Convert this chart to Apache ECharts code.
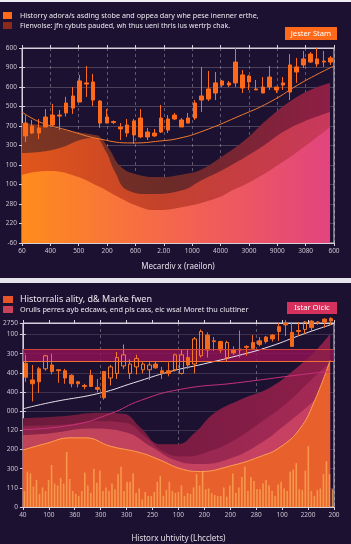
<!DOCTYPE html>
<html lang="en">
<head>
<meta charset="UTF-8">
<title>candles over layered areas</title>
<style>
  html, body { margin: 0; padding: 0; background: #1c1130; }
  #card { width: 351px; height: 544px; }
</style>
</head>
<body>
<div id="card"></div>
<script src="https://cdn.jsdelivr.net/npm/echarts@6/dist/echarts.min.js"></script>
<script>
// ---- panel 1 data ----
var xLabels1 = ['60', '400', '500', '200', '600', '2.00', '1000', '4000', '3000', '9000', '3080', '600'];
var yLabels1 = ['-60', '220', '280', '100', '100', '300', '700', '500', '600', '900', '600'];
// [open, close, low, high]
var candles1 = [
  [5.49, 6.15, 5.18, 6.56], [5.64, 6.0, 5.59, 6.31], [5.64, 5.9, 5.33, 6.36], [5.95, 6.46, 5.95, 6.87],
  [6.05, 6.56, 5.95, 7.13], [6.51, 6.56, 5.79, 6.82], [6.67, 7.18, 6.49, 7.5], [6.92, 7.54, 6.62, 8.0],
  [7.23, 8.31, 7.23, 8.62], [8.15, 8.21, 7.49, 9.08], [7.33, 8.26, 7.03, 8.67], [6.15, 7.28, 5.9, 7.33],
  [6.15, 6.46, 6.15, 6.87], [6.18, 6.23, 6.1, 6.28], [5.85, 5.95, 5.28, 6.15], [5.64, 6.05, 5.44, 6.36],
  [5.54, 6.26, 5.08, 6.36], [5.44, 6.41, 5.38, 6.87], [5.44, 5.69, 5.28, 5.9], [5.49, 5.64, 5.44, 5.85],
  [5.69, 6.41, 5.64, 7.08], [5.79, 6.36, 5.64, 6.56], [6.36, 6.56, 6.31, 6.67], [5.95, 6.31, 5.95, 6.41],
  [6.15, 6.41, 6.15, 6.67], [6.41, 7.18, 6.31, 7.33], [7.33, 7.54, 6.72, 9.03], [7.38, 7.9, 7.28, 8.82],
  [7.69, 8.21, 7.33, 8.77], [8.1, 8.31, 8.0, 8.36], [8.1, 8.21, 8.0, 8.31], [8.21, 9.28, 8.0, 10.0],
  [7.95, 8.62, 7.69, 8.87], [8.26, 8.56, 7.85, 8.62], [7.85, 7.9, 7.85, 8.36], [7.69, 8.0, 7.69, 8.51],
  [8.0, 8.51, 7.85, 9.08], [7.85, 8.0, 7.69, 8.0], [8.1, 8.21, 7.85, 8.51], [7.74, 9.13, 7.33, 9.69],
  [8.77, 9.03, 8.21, 9.49], [9.13, 9.44, 8.97, 9.85], [9.28, 9.69, 9.23, 9.79], [9.18, 9.44, 9.03, 10.0],
  [9.28, 9.33, 9.03, 9.85], [9.28, 9.49, 9.13, 9.59]
];
var trend1 = [[0, 6.72], [0.63, 6.2], [1.59, 5.79], [2.75, 5.33], [3.91, 5.13], [4.86, 5.23], [5.57, 5.38],
  [6.38, 5.74], [7.58, 6.46], [8.74, 7.23], [9.91, 8.26], [11, 9.08]];
var backArea1 = [[0, 6.15], [0.81, 6.0], [1.69, 5.74], [2.57, 5.54], [2.75, 5.44], [3.1, 4.77], [3.46, 3.95],
  [3.98, 3.54], [4.87, 3.38], [5.75, 3.54], [6.28, 3.74], [6.98, 4.36], [7.86, 5.28], [8.74, 6.46],
  [9.63, 7.44], [10.33, 7.95], [10.86, 8.21]];
var midArea1 = [[0, 4.62], [0.63, 4.67], [1.34, 4.87], [2.05, 5.28], [2.57, 5.38], [2.93, 4.77], [3.28, 3.64],
  [3.7, 2.72], [4.51, 2.51], [5.68, 2.72], [6.28, 3.18], [7.33, 3.95], [8.39, 4.87], [9.45, 5.9], [10.86, 6.72]];
var frontArea1 = [[0, 3.49], [0.46, 3.64], [0.99, 3.69], [1.87, 3.44], [2.75, 2.87], [3.46, 2.31], [4.16, 1.85],
  [4.69, 1.69], [5.68, 1.85], [6.88, 2.31], [7.44, 2.72], [8.04, 3.13], [8.92, 3.9], [9.8, 4.77], [10.86, 5.95]];

// ---- panel 2 data ----
var xLabels2 = ['40', '100', '360', '300', '300', '250', '100', '200', '200', '280', '100', '2200', '200'];
var yLabels2 = ['0', '110', '300', '200', '120', '000', '400', '400', '300', '100'];
var yTopLabel2 = '2750';
var candles2 = [
  [7.5, 6.77, 6.53, 7.94], [6.63, 6.43, 5.51, 7.41], [7.21, 6.53, 5.95, 7.31], [7.21, 7.89, 7.11, 7.94],
  [7.41, 7.07, 6.92, 7.99], [7.16, 7.11, 6.48, 7.18], [7.11, 6.73, 6.43, 7.21], [6.87, 6.43, 6.24, 6.92],
  [6.53, 6.43, 6.24, 6.58], [6.34, 6.29, 6.14, 6.43], [6.87, 6.29, 6.29, 7.16], [6.24, 6.14, 5.99, 6.68],
  [7.07, 5.7, 5.6, 7.07], [6.73, 7.31, 6.34, 7.41], [6.97, 7.8, 6.68, 8.09], [7.36, 7.94, 7.21, 8.48],
  [6.97, 7.46, 6.68, 7.7], [7.31, 7.75, 6.92, 7.94], [7.16, 7.46, 6.97, 7.55], [7.16, 7.41, 6.63, 7.55],
  [7.46, 7.26, 7.21, 7.6], [7.11, 6.97, 6.68, 7.31], [7.11, 6.97, 6.82, 7.55], [7.16, 7.94, 7.07, 8.0],
  [6.97, 7.94, 6.92, 8.19], [7.8, 7.41, 7.21, 8.24], [7.46, 8.77, 6.97, 8.87], [7.89, 9.16, 7.8, 9.26],
  [8.97, 8.19, 7.8, 9.11], [8.67, 8.63, 8.14, 8.87], [8.63, 8.19, 8.04, 8.67], [7.8, 8.58, 7.6, 8.67],
  [8.19, 8.04, 7.94, 8.38], [8.24, 8.19, 7.8, 9.21], [8.38, 8.33, 7.89, 8.43], [8.58, 8.28, 8.19, 8.97],
  [8.67, 8.48, 8.38, 8.87], [8.87, 8.63, 8.53, 8.92], [8.97, 8.77, 8.63, 9.02], [9.41, 9.16, 8.67, 9.6],
  [9.6, 9.5, 8.92, 9.75], [9.11, 8.38, 8.38, 9.65], [9.21, 9.16, 8.92, 9.65], [9.26, 9.65, 9.02, 9.7],
  [9.7, 9.36, 9.16, 9.75], [9.65, 9.6, 9.5, 9.7], [9.8, 9.65, 9.36, 9.85], [9.84, 9.7, 9.5, 9.9]
];
var bars2 = [0.83, 1.85, 1.75, 1.07, 1.41, 0.68, 1.02, 0.83, 1.41, 2.19,
  1.22, 1.12, 1.51, 1.22, 2.88, 1.46, 0.83, 0.68, 0.58, 0.83,
  1.8, 1.12, 0.73, 2.0, 1.27, 1.9, 0.83, 1.02, 0.83, 1.22,
  0.93, 1.71, 2.1, 0.83, 1.32, 1.32, 1.75, 0.73, 0.97, 0.39,
  0.78, 0.58, 0.58, 0.78, 1.32, 1.61, 0.58, 0.88, 1.32, 0.83,
  0.73, 0.78, 1.12, 0.58, 0.73, 0.68, 1.02, 1.71, 1.12, 1.85,
  0.93, 0.97, 0.73, 0.63, 0.58, 0.58, 1.02, 0.54, 1.12, 1.75,
  0.73, 1.02, 1.56, 2.1, 0.83, 1.56, 1.36, 0.93, 0.93, 1.22,
  1.41, 1.12, 0.83, 0.58, 1.17, 1.32, 0.97, 0.83, 1.85, 1.95,
  2.29, 0.93, 0.88, 1.9, 3.17, 0.83, 0.58, 0.88, 0.97, 1.71,
  2.39, 1.71, 0.93];
var whiteLine2 = [[0, 5.12], [1.08, 5.46], [3, 5.95], [4.27, 6.48], [5.69, 7.07], [6.96, 7.46], [8.27, 7.89],
  [9.54, 8.38], [10.81, 9.02], [11.96, 9.55]];
var pinkLine2 = [[0, 4.04], [1.96, 4.29], [3.38, 4.87], [4.54, 5.56], [6.08, 6.14], [8.27, 6.48], [10.81, 6.92],
  [11.85, 7.07]];
var band2 = [7.6, 8.24];
var area2a = [[0, 4.63], [1.46, 4.73], [3.0, 4.92], [3.88, 4.87], [4.54, 4.14], [5.31, 3.27], [5.96, 3.27],
  [6.65, 3.9], [7.35, 4.87], [8.38, 5.6], [9.54, 6.24], [10.69, 7.41], [11.38, 8.28], [11.85, 9.02]];
var area2b = [[0, 4.24], [1.46, 4.29], [3.0, 4.48], [3.96, 4.39], [4.73, 3.65], [5.5, 2.83], [6.27, 2.63],
  [7.23, 2.92], [8.19, 3.51], [9.15, 4.39], [10.12, 5.36], [11.08, 6.58], [11.85, 7.55]];
var area2c = [[0, 3.75], [1.08, 3.85], [2.62, 4.09], [3.96, 3.9], [4.92, 3.17], [5.88, 2.44], [6.85, 2.24],
  [8.0, 2.53], [9.15, 3.31], [10.12, 4.29], [11.08, 5.36], [11.85, 6.34]];
var area2d = [[0, 2.97], [0.88, 3.31], [1.85, 3.61], [2.42, 3.61], [3.38, 3.17], [4.54, 2.83], [5.31, 2.44],
  [6.08, 2.0], [6.85, 1.85], [8.0, 2.14], [9.15, 2.63], [9.92, 3.12], [10.69, 4.09], [11.27, 5.6], [11.85, 7.65]];

var FONT = '"Noto Sans", "DejaVu Sans", sans-serif';
var LINE = '#d4d0dc';
var LABEL = '#cac5d3';

function idx(n) {
  var a = [];
  for (var i = 0; i < n; i++) a.push(String(i));
  return a;
}
function grad(stops) {
  return new echarts.graphic.LinearGradient(0, 0, 1, 0, stops);
}
function area(data, xi, yi, color, z) {
  return {
    type: 'line', xAxisIndex: xi, yAxisIndex: yi, data: data, smooth: 0.45, symbol: 'none',
    lineStyle: { width: 0 }, areaStyle: { color: color, opacity: 1 }, z: z, silent: true
  };
}
function tickAxis(grid, pos, max) {
  return {
    type: 'value', gridIndex: grid, position: pos, min: 0, max: max, interval: 1,
    axisLine: { show: true, lineStyle: { color: LINE } },
    axisTick: { show: true, length: 3, lineStyle: { color: LINE } },
    axisLabel: { show: false }, splitLine: { show: false }
  };
}

var xAxis = [
  { type: 'category', gridIndex: 0, data: idx(candles1.length), show: false },
  {
    type: 'value', gridIndex: 0, position: 'bottom', min: 0, max: 11, interval: 1,
    axisLine: { show: true, lineStyle: { color: LINE } },
    axisTick: { show: true, length: 3, lineStyle: { color: LINE } },
    axisLabel: { color: LABEL, fontSize: 6.5, fontFamily: FONT, margin: 5,
      formatter: function (v) { return xLabels1[Math.round(v)]; } },
    splitLine: { show: true, lineStyle: { color: 'rgba(255,255,255,0.3)', type: [3, 3] } },
    name: 'Mecardiv x (raeilon)', nameLocation: 'middle', nameGap: 20,
    nameTextStyle: { color: '#e2dee8', fontSize: 8, fontFamily: FONT }
  },
  tickAxis(0, 'top', 11),
  { type: 'category', gridIndex: 1, data: idx(candles2.length), show: false },
  { type: 'category', gridIndex: 1, data: idx(bars2.length), show: false },
  {
    type: 'value', gridIndex: 1, position: 'bottom', min: 0, max: 12, interval: 1,
    axisLine: { show: true, lineStyle: { color: LINE } },
    axisTick: { show: true, length: 3, lineStyle: { color: LINE } },
    axisLabel: { color: LABEL, fontSize: 6.5, fontFamily: FONT, margin: 5,
      formatter: function (v) { return xLabels2[Math.round(v)]; } },
    splitLine: { show: false },
    name: 'Historx uhtivity (Lhcclets)', nameLocation: 'middle', nameGap: 28,
    nameTextStyle: { color: '#e2dee8', fontSize: 8, fontFamily: FONT }
  },
  tickAxis(1, 'top', 12),
  {
    type: 'value', gridIndex: 1, min: 0, max: 12, interval: 3,
    axisLine: { show: false }, axisTick: { show: false }, axisLabel: { show: false },
    splitLine: { show: true, lineStyle: { color: 'rgba(255,255,255,0.3)', type: [3, 3] } }
  }
];

var yAxis = [
  {
    type: 'value', gridIndex: 0, min: 0, max: 10, interval: 1,
    axisLine: { show: true, lineStyle: { color: LINE } },
    axisTick: { show: true, length: 3, lineStyle: { color: LINE } },
    axisLabel: { color: LABEL, fontSize: 6.5, fontFamily: FONT, margin: 5,
      formatter: function (v) { return yLabels1[Math.round(v)]; } },
    splitLine: { show: true, lineStyle: { color: 'rgba(255,255,255,0.2)' } }
  },
  tickAxis(0, 'right', 10),
  {
    type: 'value', gridIndex: 1, min: 0, max: 9.6, interval: 1,
    axisLine: { show: true, lineStyle: { color: LINE } },
    axisTick: { show: true, length: 3, lineStyle: { color: LINE } },
    axisLabel: { color: LABEL, fontSize: 6.5, fontFamily: FONT, margin: 5, showMaxLabel: true,
      formatter: function (v) { return v > 9.05 ? yTopLabel2 : yLabels2[Math.round(v)]; } },
    splitLine: { show: true, lineStyle: { color: 'rgba(255,255,255,0.14)' } }
  },
  tickAxis(1, 'right', 9.6)
];

var series = [
  // panel 1
  area(backArea1, 1, 0, grad([{ offset: 0, color: '#7c3622' }, { offset: 0.5, color: '#6c2a28' }, { offset: 1, color: '#8e1e46' }]), 1),
  area(midArea1, 1, 0, grad([{ offset: 0, color: '#e0561a' }, { offset: 0.45, color: '#c4422a' }, { offset: 1, color: '#c8385e' }]), 1),
  area(frontArea1, 1, 0, grad([{ offset: 0, color: '#ff8c1c' }, { offset: 0.5, color: '#f4654e' }, { offset: 1, color: '#e2447e' }]), 1),
  {
    type: 'line', xAxisIndex: 1, yAxisIndex: 0, data: trend1, smooth: 0.5, symbol: 'none',
    lineStyle: { color: '#f07a32', width: 1 }, z: 3
  },
  {
    type: 'candlestick', xAxisIndex: 0, yAxisIndex: 0, data: candles1, barWidth: 4, z: 4,
    itemStyle: { color: '#ff6a1a', color0: '#e8581a', borderColor: '#ff6a1a', borderColor0: '#e8581a', borderWidth: 1 }
  },
  // panel 2
  area(area2a, 5, 2, grad([{ offset: 0, color: '#6c1a3c' }, { offset: 1, color: '#8c1e4a' }]), 1),
  area(area2b, 5, 2, grad([{ offset: 0, color: '#8a2448' }, { offset: 1, color: '#a42a56' }]), 1),
  area(area2c, 5, 2, grad([{ offset: 0, color: '#c0445a' }, { offset: 1, color: '#c84064' }]), 1),
  {
    type: 'line', xAxisIndex: 5, yAxisIndex: 2, data: area2d, smooth: 0.45, symbol: 'none',
    lineStyle: { color: '#ffa052', width: 1 }, areaStyle: { color: '#e8602c', opacity: 1 }, z: 1
  },
  {
    type: 'bar', xAxisIndex: 4, yAxisIndex: 2, data: bars2, barWidth: 1.6, z: 2,
    itemStyle: { color: 'rgba(250,165,82,0.8)' }
  },
  {
    type: 'line', xAxisIndex: 5, yAxisIndex: 2, data: pinkLine2, smooth: 0.5, symbol: 'none',
    lineStyle: { color: '#c8327c', width: 1 }, z: 3
  },
  {
    type: 'line', xAxisIndex: 5, yAxisIndex: 2, data: whiteLine2, smooth: 0.5, symbol: 'none',
    lineStyle: { color: '#e8e4ee', width: 1 }, z: 3,
    markArea: {
      silent: true,
      itemStyle: { color: 'rgba(150,18,88,0.78)' },
      data: [[{ yAxis: band2[0] }, { yAxis: band2[1] }]]
    },
    markLine: {
      silent: true, symbol: 'none', label: { show: false },
      data: [
        { yAxis: band2[1], lineStyle: { color: '#d0443a', width: 1, type: 'solid' } },
        { yAxis: band2[0], lineStyle: { color: '#f07030', width: 1, type: 'solid' } }
      ]
    }
  },
  {
    type: 'candlestick', xAxisIndex: 3, yAxisIndex: 2, data: candles2, barWidth: 4, z: 4, clip: false,
    itemStyle: { color: 'rgba(0,0,0,0)', color0: '#f26a1c', borderColor: '#f47a2a', borderColor0: '#f26a1c', borderWidth: 1 }
  }
];

var graphic = [
  { type: 'rect', shape: { x: 0, y: 0, width: 351, height: 2 }, style: { fill: '#eeeef2' } },
  { type: 'rect', shape: { x: 0, y: 278, width: 351, height: 5 }, style: { fill: '#e6e4ec' } },
  // panel 1 header
  { type: 'rect', shape: { x: 3, y: 12, width: 9, height: 7 }, style: { fill: '#ff6a1a' } },
  { type: 'rect', shape: { x: 3, y: 22, width: 9, height: 7 }, style: { fill: '#8a2a1c' } },
  { type: 'text', x: 20, y: 15.5, style: { text: 'Historry adora/s asding stobe and oppea dary whe pese inenner erthe,',
    fill: '#eae8f0', font: '7.2px ' + FONT, verticalAlign: 'middle' } },
  { type: 'text', x: 20, y: 25.5, style: { text: 'Fienvolse: jfn cybuts pauded, wh thus ueni thris ius wertrþ chak.',
    fill: '#eae8f0', font: '7px ' + FONT, verticalAlign: 'middle' } },
  { type: 'rect', shape: { x: 285, y: 27, width: 52, height: 13 }, style: { fill: '#ff6a1a' } },
  { type: 'text', x: 311, y: 33.5, style: { text: 'Jester Stam', fill: '#ffffff', font: '7.6px ' + FONT,
    align: 'center', verticalAlign: 'middle' } },
  // panel 2 header
  { type: 'rect', shape: { x: 3, y: 296, width: 10, height: 7 }, style: { fill: '#e8542a' } },
  { type: 'rect', shape: { x: 3, y: 306, width: 10, height: 7 }, style: { fill: '#c8405a' } },
  { type: 'text', x: 20, y: 299.5, style: { text: 'Historralis ality, d& Marke fwen',
    fill: '#eae8f0', font: '9px ' + FONT, verticalAlign: 'middle' } },
  { type: 'text', x: 20, y: 309.5, style: { text: 'Orulls perres ayb edcaws, end pls cass, eic wsa! Moret thu cluttiner',
    fill: '#eae8f0', font: '7.3px ' + FONT, verticalAlign: 'middle' } },
  { type: 'rect', shape: { x: 287, y: 302, width: 50, height: 12 }, style: { fill: '#d6305c' } },
  { type: 'text', x: 312, y: 308, style: { text: 'Istar Oicic', fill: '#ffffff', font: '7.6px ' + FONT,
    align: 'center', verticalAlign: 'middle' } }
];

var option = {
  backgroundColor: '#1c1130',
  animation: false,
  grid: [
    { left: 22, top: 48, width: 312, height: 195, show: true, borderColor: LINE, borderWidth: 1, backgroundColor: 'transparent' },
    { left: 22, top: 323, width: 312, height: 197, show: true, borderColor: LINE, borderWidth: 1, backgroundColor: 'transparent' }
  ],
  xAxis: xAxis,
  yAxis: yAxis,
  series: series,
  graphic: graphic
};

var myChart = echarts.init(document.getElementById('card'));
myChart.setOption(option);
</script>
</body>
</html>
